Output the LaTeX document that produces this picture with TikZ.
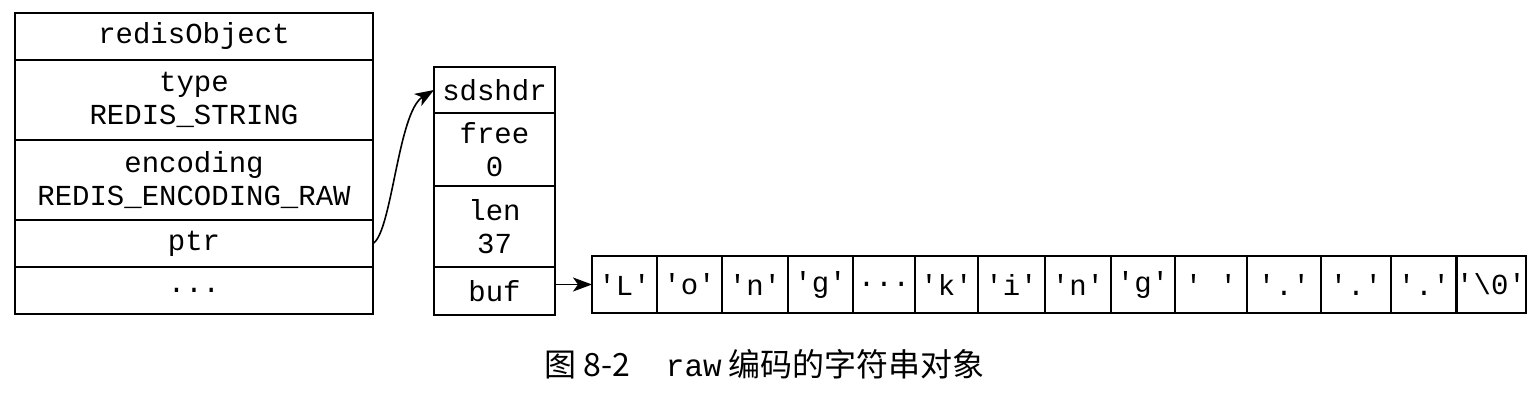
\documentclass[tikz,border=0pt]{standalone}
\usepackage{fontspec}
\setmonofont{Liberation Mono}
\newfontfamily\cjk{Noto Sans CJK SC}
\usetikzlibrary{arrows.meta}
\newcommand\mydots{...}
\tikzset{
  cell/.style={draw=black, line width=2pt, inner sep=0pt, outer sep=0pt, align=center,
    font=\ttfamily\fontsize{29}{33}\selectfont},
  link/.style={draw=black, line width=1.6pt, -{Stealth[length=19pt,width=14pt,inset=5pt]}},
}
\begin{document}
\begin{tikzpicture}[x=1pt,y=-1pt]
\useasboundingbox (0,0) rectangle (1537,406);
% redisObject
\node[cell, minimum width=358pt, minimum height=47pt] (ro0) at (194,36.5) {redisObject};
\node[cell, minimum width=358pt, minimum height=80pt] (ro1) at (194,100) {type\\REDIS\_STRING};
\node[cell, minimum width=358pt, minimum height=80pt] (ro2) at (194,180) {encoding\\REDIS\_ENCODING\_RAW};
\node[cell, minimum width=358pt, minimum height=47pt] (ro3) at (194,243.5) {ptr};
\node[cell, minimum width=358pt, minimum height=47pt] (ro4) at (194,290.5) {\mydots};
% sdshdr
\node[cell, minimum width=121pt, minimum height=46pt] (s0) at (494.5,90) {sdshdr};
\node[cell, minimum width=121pt, minimum height=73pt] (s1) at (494.5,149.5) {free\\0};
\node[cell, minimum width=121pt, minimum height=81pt] (s2) at (494.5,226.5) {len\\37};
\node[cell, minimum width=121pt, minimum height=48pt] (s3) at (494.5,291) {buf};
% buffer
\foreach \l/\r/\t [count=\i] in {592/657/'L', 657/722/'o', 722/788/'n', 788/853/'g', 853/915/\mydots, 915/978/'k', 978/1045/'i', 1045/1111/'n', 1111/1175/'g', 1175/1247/'{ }', 1247/1321/'.', 1321/1391/'.', 1391/1457/'.', 1457/1525/'\textbackslash 0'}{
  \node[cell, minimum width={\r-\l}, minimum height=57pt] (b\i) at ({(\l+\r)/2},284.5) {\t};
}
% connectors
\draw[link] (ro3.east) .. controls (392,232) and (398,112) .. (s0.west);
\draw[link] (s3.east |- b1.west) -- (b1.west);
% caption
\node[anchor=west, inner sep=0pt, font=\cjk\fontsize{32}{36}\selectfont] (cap) at (544,364)
  {图 8-2\hspace{36pt}{\ttfamily\fontsize{31}{36}\selectfont raw} 编码的字符串对象};
\end{tikzpicture}
\end{document}
